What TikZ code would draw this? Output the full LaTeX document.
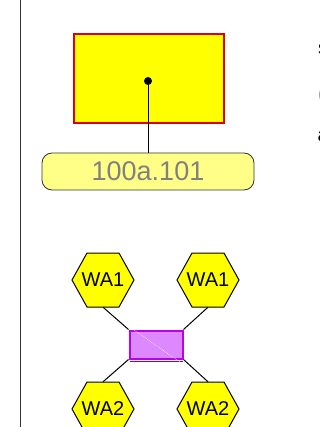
\documentclass[tikz,border=0pt]{standalone}
\usepackage{fontspec}
\setmainfont{Liberation Sans}
\definecolor{boxyellow}{HTML}{FFFF00}
\definecolor{boxred}{HTML}{E00000}
\definecolor{tagyellow}{HTML}{FFFF88}
\definecolor{tagtext}{HTML}{808080}
\definecolor{hubfill}{HTML}{DD88FF}
\definecolor{hubline}{HTML}{BB00EE}
\definecolor{hubdark}{HTML}{8800AA}
\tikzset{
  hexa/.style={minimum width=62pt, minimum height=54pt, inner sep=0pt,
    font=\fontsize{20}{20}\selectfont},
  hexline/.style={draw=black, line width=1pt, fill=boxyellow, line join=miter},
  link/.style={draw=black, line width=1pt}
}
\begin{document}
\begin{tikzpicture}[x=1pt,y=-1pt]
			%%%%% START %%%%%
			\useasboundingbox (0,0) rectangle (320,427);
			\draw[line width=1pt, black!80] (20.5,0) -- (20.5,427);
			
			\node[draw=boxred, line width=2pt, fill=boxyellow, minimum width=150pt,
			  minimum height=89pt, inner sep=0pt] (room) at (148.5,79) {};
			\coordinate (pin) at (148,81);
			\node[draw=black!80, line width=0.8pt, fill=tagyellow, rounded corners=10pt,
			  minimum width=212pt, minimum height=37pt, inner sep=0pt,
			  text=tagtext, font=\fontsize{27}{27}\selectfont] (tag) at (148,171.5) {100a.101};
			\draw[link] (pin) -- (tag.north -| pin);
			\fill[black] (pin) circle (4pt);
			
			\foreach \x/\y/\n/\t in {103/280/wa1l/WA1, 208/280/wa1r/WA1, 103/409/wa2l/WA2, 208/409/wa2r/WA2} {
			  \draw[hexline] (\x-31,\y) -- (\x-16,\y-27) -- (\x+16,\y-27) -- (\x+31,\y) -- (\x+16,\y+27) -- (\x-16,\y+27) -- cycle;
			  \node[hexa] (\n) at (\x,\y) {\t};
			}
			
			\node[draw=hubline, line width=2pt, fill=hubfill, minimum width=53pt,
			  minimum height=28pt, inner sep=0pt] (hub) at (156,344.5) {};
			\draw[hubdark, line width=1.2pt] ([shift={(1pt,-1.6pt)}]hub.south west) -- ([shift={(-1pt,-1.6pt)}]hub.south east);
			\draw[white, densely dotted, line width=0.6pt] ([shift={(2pt,2pt)}]hub.north west) -- ([shift={(-3pt,-3pt)}]hub.south east);
			
			\draw[link] (wa1l.south) -- (hub.north west);
			\draw[link] (wa1r.south) -- (hub.north east);
			\draw[link] (wa2l.north) -- (hub.south west);
			\draw[link] (wa2r.north) -- (hub.south east);
			
			\node[anchor=base west, inner sep=0pt, font=\fontsize{20}{20}\selectfont] (cut1) at (318,55) {s};
			\node[anchor=base west, inner sep=0pt, text=tagtext, font=\fontsize{20}{20}\selectfont] (cut2) at (318,101) {(};
			\node[anchor=base west, inner sep=0pt, font=\fontsize{20}{20}\selectfont] (cut3) at (317.5,142) {a};
			%%%%% END %%%%%
		\end{tikzpicture}
\end{document}
